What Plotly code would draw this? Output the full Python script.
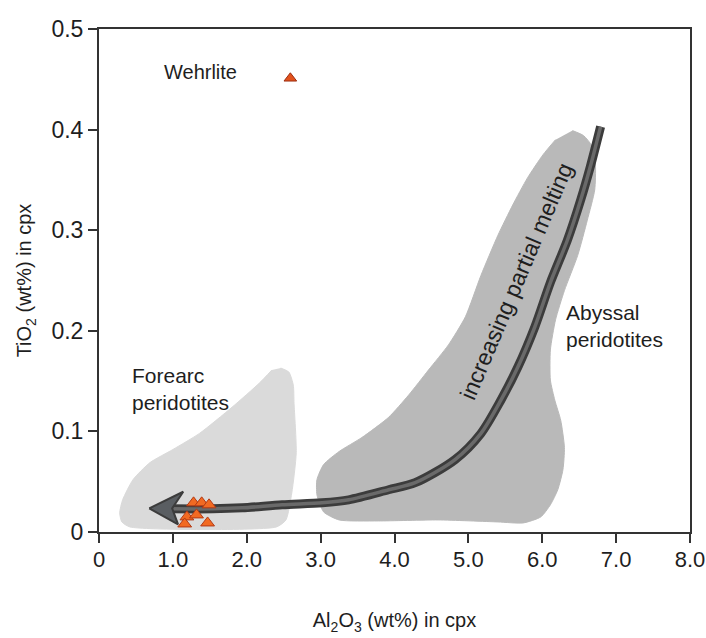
import plotly.graph_objects as go

# ---- data ----
forearc_x = [2.46, 2.57, 2.63, 2.64, 2.67, 2.61, 2.53, 2.40, 0.42, 0.31, 0.28, 0.32, 0.46, 0.69, 1.00, 1.36, 1.80, 2.17, 2.34]
forearc_y = [0.163, 0.159, 0.146, 0.128, 0.079, 0.039, 0.012, 0.005, 0.005, 0.010, 0.019, 0.032, 0.052, 0.069, 0.082, 0.098, 0.124, 0.148, 0.161]

abyssal_x = [6.41, 6.56, 6.67, 6.72, 6.71, 6.61, 6.48, 6.30, 6.18, 6.11, 6.11, 6.17, 6.25, 6.30, 6.28, 6.21, 6.11, 5.98, 5.74,
             5.40, 4.59, 3.78, 3.25, 3.04, 2.95, 2.95, 3.04, 3.25, 3.56, 3.92, 4.19, 4.46, 4.73, 4.96, 5.17, 5.40, 5.60, 5.80, 6.01, 6.18]
abyssal_y = [0.399, 0.394, 0.384, 0.365, 0.340, 0.310, 0.275, 0.240, 0.211, 0.181, 0.151, 0.131, 0.111, 0.084, 0.062, 0.042, 0.027, 0.015, 0.009,
             0.010, 0.012, 0.011, 0.012, 0.020, 0.037, 0.052, 0.067, 0.080, 0.094, 0.114, 0.136, 0.161, 0.186, 0.214, 0.255, 0.295, 0.325, 0.352, 0.375, 0.390]

trend_x = [6.79, 6.65, 6.52, 6.34, 6.11, 5.90, 5.67, 5.44, 5.17, 4.82, 4.28, 3.92, 3.38, 3.02, 2.48, 1.94, 1.54, 0.98]
trend_y = [0.403, 0.363, 0.330, 0.290, 0.248, 0.204, 0.164, 0.131, 0.098, 0.072, 0.049, 0.042, 0.032, 0.029, 0.027, 0.024, 0.023, 0.023]

head_x = [0.68, 1.14, 0.99, 1.07, 0.68]
head_y = [0.0235, 0.0400, 0.0235, 0.0075, 0.0235]

samples_x = [1.28, 1.39, 1.49, 1.19, 1.32, 1.16, 1.47]
samples_y = [0.029, 0.029, 0.027, 0.015, 0.017, 0.008, 0.009]

wehrlite_x = [2.59]
wehrlite_y = [0.451]

x_ticks = [0, 1, 2, 3, 4, 5, 6, 7, 8]
x_tick_labels = ["0", "1.0", "2.0", "3.0", "4.0", "5.0", "6.0", "7.0", "8.0"]
y_ticks = [0, 0.1, 0.2, 0.3, 0.4, 0.5]
y_tick_labels = ["0", "0.1", "0.2", "0.3", "0.4", "0.5"]

FONT = "Liberation Sans, Arial, sans-serif"
TXT = "#1e1e1e"

fig = go.Figure()

fig.add_trace(go.Scatter(x=forearc_x, y=forearc_y, fill="toself", mode="lines",
                         line=dict(color="#dadada", width=1, shape="spline", smoothing=0.6),
                         fillcolor="#dadada", hoverinfo="skip", showlegend=False))
fig.add_trace(go.Scatter(x=abyssal_x, y=abyssal_y, fill="toself", mode="lines",
                         line=dict(color="#b9b9b9", width=1, shape="spline", smoothing=0.6),
                         fillcolor="#b9b9b9", hoverinfo="skip", showlegend=False))

# trend arrow
fig.add_trace(go.Scatter(x=trend_x, y=trend_y, mode="lines",
                         line=dict(color="#3c3c3c", width=9, shape="spline", smoothing=0.8),
                         hoverinfo="skip", showlegend=False))
fig.add_trace(go.Scatter(x=trend_x, y=trend_y, mode="lines",
                         line=dict(color="#6a6a6a", width=3.5, shape="spline", smoothing=0.8),
                         hoverinfo="skip", showlegend=False))
fig.add_trace(go.Scatter(x=head_x, y=head_y, mode="lines", fill="toself",
                         line=dict(color="#3c3c3c", width=2), fillcolor="#5a5e62",
                         hoverinfo="skip", showlegend=False))

# samples
fig.add_trace(go.Scatter(x=samples_x, y=samples_y, mode="markers",
                         marker=dict(symbol="triangle-up", size=12, color="#f26a22",
                                     line=dict(color="#b23a16", width=1)),
                         showlegend=False))
fig.add_trace(go.Scatter(x=wehrlite_x, y=wehrlite_y, mode="markers",
                         marker=dict(symbol="triangle-up", size=11, color="#e2521c",
                                     line=dict(color="#9c2e12", width=1)),
                         showlegend=False))

annots = [
    dict(x=1.37, y=0.457, text="Wehrlite", xanchor="center", yanchor="middle", font=dict(size=20)),
    dict(x=0.42, y=0.142, text="Forearc<br>peridotites", xanchor="left", yanchor="middle", align="left", font=dict(size=21)),
    dict(x=6.30, y=0.205, text="Abyssal<br>peridotites", xanchor="left", yanchor="middle", align="left", font=dict(size=21)),
    dict(x=5.64, y=0.249, text="increasing partial melting", textangle=-67, xanchor="center", yanchor="middle", font=dict(size=23)),
]
for a in annots:
    a.update(showarrow=False, xref="x", yref="y")
    a["font"].update(family=FONT, color=TXT)
    fig.add_annotation(**a)

axis_common = dict(showline=True, linecolor="#333333", linewidth=2, mirror=True,
                   ticks="outside", ticklen=9, tickwidth=2, tickcolor="#333333",
                   showgrid=False, zeroline=False, ticklabeloverflow="allow")

fig.update_xaxes(range=[0, 8], tickvals=x_ticks, ticktext=x_tick_labels,
                 ticklabelstandoff=-2,
                 tickfont=dict(family=FONT, size=22, color=TXT),
                 title=dict(text="Al<sub>2</sub>O<sub>3</sub> (wt%) in cpx", standoff=42,
                            font=dict(family=FONT, size=20, color=TXT)),
                 **axis_common)
fig.update_yaxes(range=[0, 0.5], tickvals=y_ticks, ticktext=y_tick_labels,
                 tickfont=dict(family=FONT, size=23, color=TXT),
                 title=dict(text="TiO<sub>2</sub> (wt%) in cpx", standoff=14,
                            font=dict(family=FONT, size=20, color=TXT)),
                 **axis_common)

fig.update_layout(width=706, height=638, margin=dict(l=99, r=16, t=29, b=106, autoexpand=False),
                  plot_bgcolor="white", paper_bgcolor="white")

fig.write_html("out.html", config={"displayModeBar": False},
               post_script="document.body.style.margin='0';")
